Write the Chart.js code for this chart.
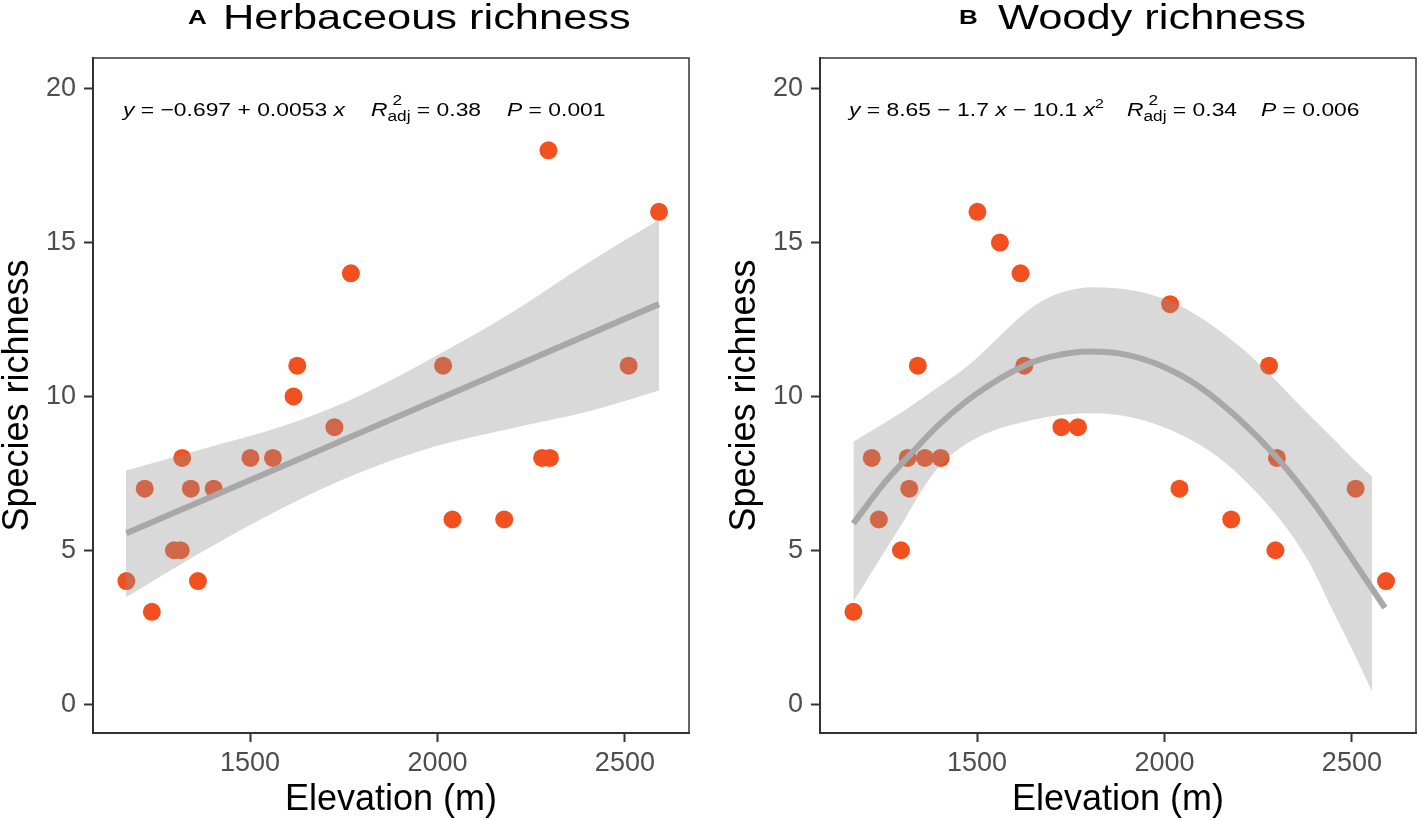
<!DOCTYPE html>
<html>
<head>
<meta charset="utf-8">
<script src="https://cdn.jsdelivr.net/npm/chart.js@4.4.1/dist/chart.umd.min.js"></script>
<style>
html,body{margin:0;padding:0;background:#fff;overflow:hidden;width:1417px;height:821px;}
#wrap{position:relative;width:1417px;height:821px;overflow:hidden;font-family:"Liberation Sans",Arial,Helvetica,sans-serif;color:#000;}
canvas{position:absolute;top:0;}
#c1{left:0;}
#c2{left:727px;}
.tl{position:absolute;top:-3px;line-height:40px;white-space:nowrap;transform:scaleX(1.24);transform-origin:0 0;}
.tl.letter{font-size:21px;font-weight:bold;}
.tl.main{font-size:35px;}
.eq{position:absolute;top:99.6px;font-size:18.6px;line-height:20px;white-space:nowrap;transform:scaleX(1.23);transform-origin:0 0;}
.eq i{font-style:italic;}
.eq sup{font-size:13px;line-height:0;vertical-align:0;position:relative;top:-8px;}
.st{display:inline-block;position:relative;font-size:14px;line-height:16px;}
.st .sb{position:relative;top:5px;}
.st .sp{position:absolute;left:4px;top:-11px;line-height:16px;}
</style>
</head>
<body>
<div id="wrap">
  <canvas id="c1" width="700" height="821"></canvas>
  <canvas id="c2" width="700" height="821"></canvas>

  <div class="tl letter" style="left:188px;">A</div>
  <div class="tl main" style="left:223px;">Herbaceous richness</div>
  <div class="tl letter" style="left:959px;">B</div>
  <div class="tl main" style="left:998px;">Woody richness</div>

  <div class="eq" style="left:122.5px;"><i>y</i> = −0.697 + 0.0053 <i>x</i></div>
  <div class="eq" style="left:371px;"><i>R</i><span class="st"><span class="sb">adj</span><span class="sp">2</span></span> = 0.38</div>
  <div class="eq" style="left:507px;"><i>P</i> = 0.001</div>

  <div class="eq" style="left:849px;"><i>y</i> = 8.65 − 1.7 <i>x</i> − 10.1 <i>x</i><sup>2</sup></div>
  <div class="eq" style="left:1126.6px;"><i>R</i><span class="st"><span class="sb">adj</span><span class="sp">2</span></span> = 0.34</div>
  <div class="eq" style="left:1261px;"><i>P</i> = 0.006</div>
</div>

<script>
// ---- data ----
const elevation      = [1170,1219,1238,1297,1315,1319,1342,1361,1403,1501,1561,1616,1626,1725,1769,2015,2040,2178,2279,2296,2300,2510,2591];
const herbRichness   = [4,7,3,5,5,8,7,4,7,8,8,10,11,9,14,11,6,6,8,18,8,11,16];
const woodyRichness  = [3,8,6,5,8,7,11,8,8,16,15,14,11,9,9,13,7,6,11,5,8,7,4];

const herbFitX   = [1170, 2591];
const herbFitY   = [5.55, 13.0];
const herbBandX  = [1169, 1379, 1584, 1788, 1992, 2196, 2400, 2591];
const herbBandHi = [7.59, 8.31, 9.02, 10.0, 11.29, 12.71, 14.33, 15.74];
const herbBandLo = [3.47, 5.0, 6.36, 7.5, 8.37, 8.96, 9.5, 10.19];

const woodyFitX   = [1170,1250,1317,1400,1500,1626,1700,1801,1900,2000,2095,2200,2298,2400,2449,2521,2588];
const woodyFitY   = [5.87,7.15,8.05,9.1,10.1,11.0,11.3,11.46,11.35,10.95,10.3,9.25,8.04,6.5,5.65,4.35,3.13];
const woodyHiX    = [1170,1295,1384,1473,1650,1721,1811,2014,2201,2383,2449,2502,2554];
const woodyBandHi = [8.53,9.45,10.2,10.97,12.92,13.36,13.55,13.1,11.62,9.44,8.64,7.98,7.39];
const woodyLoX    = [1170,1295,1384,1473,1650,1811,2095,2272,2383,2449,2502,2554];
const woodyBandLo = [3.33,5.77,7.5,8.47,9.24,9.45,8.42,6.53,4.67,3.04,1.74,0.40];

const xTicks = [1500, 2000, 2500];
const yTicks = [0, 5, 10, 15, 20];
const xLabel = 'Elevation (m)';
const yLabel = 'Species richness';

// ---- styling ----
const pointColor = '#F2511F';
const bandColor  = 'rgba(146,146,148,0.35)';
const lineColor  = '#A8A8A8';
const axisColor  = '#333333';
const tickColor  = '#4D4D4D';

Chart.defaults.font.family = "'Liberation Sans', Arial, Helvetica, sans-serif";

const zip = (xs, ys) => xs.map((x, i) => ({x: x, y: ys[i]}));

const boxPlugin = {
  id: 'box',
  afterDraw(chart) {
    const {ctx, chartArea: a} = chart;
    ctx.save();
    ctx.strokeStyle = axisColor;
    ctx.lineWidth = 1.5;
    ctx.strokeRect(a.left, a.top, a.right - a.left, a.bottom - a.top);
    ctx.restore();
  }
};

function makeChart(id, ys, fitX, fitY, hiX, bandHi, loX, bandLo) {
  return new Chart(document.getElementById(id), {
    type: 'line',
    data: {
      datasets: [
        { label: 'fit', data: zip(fitX, fitY), borderColor: lineColor, borderWidth: 6,
          pointRadius: 0, fill: false, cubicInterpolationMode: 'monotone', order: 0, borderCapStyle: 'butt' },
        { label: 'upper', data: zip(hiX, bandHi), borderWidth: 0, borderColor: 'rgba(0,0,0,0)',
          backgroundColor: bandColor, pointRadius: 0, fill: '+1', cubicInterpolationMode: 'monotone', order: 1 },
        { label: 'lower', data: zip(loX, bandLo), borderWidth: 0, borderColor: 'rgba(0,0,0,0)',
          pointRadius: 0, fill: false, cubicInterpolationMode: 'monotone', order: 2 },
        { label: 'points', data: zip(elevation, ys), showLine: false, pointRadius: 9,
          pointBackgroundColor: pointColor, pointBorderWidth: 0, pointBorderColor: pointColor, order: 3 }
      ]
    },
    options: {
      responsive: false,
      animation: false,
      events: [],
      layout: { padding: { left: 0, right: 11, top: 58, bottom: 0 } },
      plugins: { legend: { display: false }, tooltip: { enabled: false }, title: { display: false } },
      scales: {
        x: {
          type: 'linear', min: 1081, max: 2671,
          afterBuildTicks: s => { s.ticks = xTicks.map(v => ({value: v})); },
          afterFit: s => { s.height = 88; },
          ticks: { font: { size: 27 }, color: tickColor, padding: 5, maxRotation: 0, autoSkip: false,
                   callback: v => String(v) },
          grid: { display: true, drawOnChartArea: false, drawTicks: true, tickLength: 9, tickColor: axisColor, tickWidth: 2 },
          border: { display: true, color: axisColor, width: 2 },
          title: { display: true, text: xLabel, color: '#000', font: { size: 36, lineHeight: 1 }, padding: { top: 0, bottom: 3 } }
        },
        y: {
          type: 'linear', min: -0.94, max: 21.0,
          afterBuildTicks: s => { s.ticks = yTicks.map(v => ({value: v})); },
          afterFit: s => { s.width = 93; },
          ticks: { font: { size: 27 }, color: tickColor, padding: 8, callback: v => String(v) },
          grid: { display: true, drawOnChartArea: false, drawTicks: true, tickLength: 9, tickColor: axisColor, tickWidth: 2 },
          border: { display: true, color: axisColor, width: 2 },
          title: { display: true, text: yLabel, color: '#000', font: { size: 36, lineHeight: 1 }, padding: { top: 0, bottom: 0 } }
        }
      }
    },
    plugins: [boxPlugin]
  });
}

makeChart('c1', herbRichness, herbFitX, herbFitY, herbBandX, herbBandHi, herbBandX, herbBandLo);
makeChart('c2', woodyRichness, woodyFitX, woodyFitY, woodyHiX, woodyBandHi, woodyLoX, woodyBandLo);
</script>
</body>
</html>
